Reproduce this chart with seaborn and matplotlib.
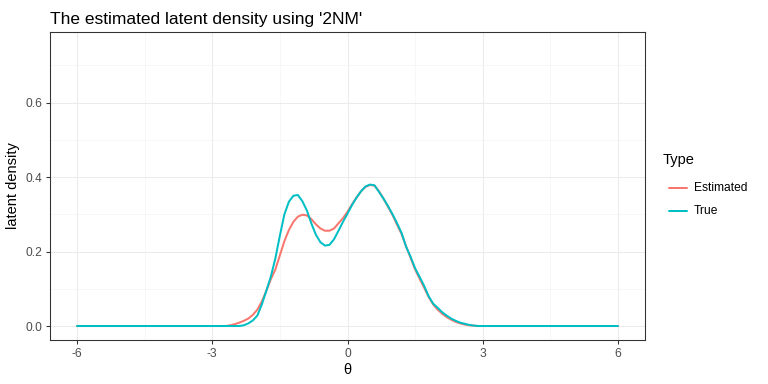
import pandas as pd
import matplotlib
matplotlib.use("Agg")
import matplotlib.pyplot as plt
import seaborn as sns
from matplotlib.ticker import MultipleLocator
from matplotlib.lines import Line2D

# Rejilla de theta
theta = [-6.0, -3.0, -2.9, -2.8, -2.7, -2.6, -2.5, -2.4, -2.3, -2.2, -2.1,
         -2.0, -1.9, -1.8, -1.7, -1.6, -1.5, -1.4, -1.3, -1.2, -1.1,
         -1.0, -0.9, -0.8, -0.7, -0.6, -0.5, -0.4, -0.3, -0.2, -0.1,
         0.0, 0.1, 0.2, 0.3, 0.4, 0.5, 0.6, 0.7, 0.8, 0.9,
         1.0, 1.1, 1.2, 1.3, 1.4, 1.5, 1.6, 1.7, 1.8, 1.9,
         2.0, 2.1, 2.2, 2.3, 2.4, 2.5, 2.6, 2.7, 2.8, 2.9, 3.0, 6.0]

# Densidad estimada
estimated = [0.0, 0.0, 0.0, 0.0, 0.0, 0.002, 0.005, 0.009, 0.014, 0.020, 0.030,
             0.044, 0.066, 0.095, 0.126, 0.152, 0.190, 0.228, 0.258, 0.280, 0.294,
             0.299, 0.297, 0.287, 0.273, 0.262, 0.256, 0.256, 0.262, 0.276, 0.290,
             0.307, 0.327, 0.345, 0.362, 0.374, 0.379, 0.377, 0.362, 0.342, 0.320,
             0.298, 0.272, 0.247, 0.214, 0.183, 0.152, 0.127, 0.103, 0.078, 0.058,
             0.044, 0.033, 0.024, 0.017, 0.011, 0.007, 0.004, 0.002, 0.001, 0.0, 0.0, 0.0]

# Densidad verdadera
true_dens = [0.0, 0.0, 0.0, 0.0, 0.0, 0.0, 0.0, 0.0, 0.002, 0.007, 0.015,
             0.028, 0.058, 0.095, 0.133, 0.182, 0.243, 0.300, 0.334, 0.350, 0.352,
             0.335, 0.310, 0.275, 0.245, 0.225, 0.216, 0.218, 0.233, 0.256, 0.280,
             0.302, 0.325, 0.345, 0.362, 0.375, 0.380, 0.378, 0.360, 0.342, 0.322,
             0.300, 0.276, 0.250, 0.213, 0.186, 0.155, 0.132, 0.108, 0.080, 0.060,
             0.049, 0.037, 0.028, 0.020, 0.014, 0.009, 0.006, 0.003, 0.001, 0.0, 0.0, 0.0]

types = ["Estimated", "True"]
colores = {"Estimated": "#F8766D", "True": "#00BFC4"}

df = pd.concat([
    pd.DataFrame({"theta": theta, "dens": estimated, "Type": "Estimated"}),
    pd.DataFrame({"theta": theta, "dens": true_dens, "Type": "True"}),
])

sns.set_theme(style="white")
plt.rcParams["font.family"] = ["Liberation Sans", "DejaVu Sans"]

fig = plt.figure(figsize=(8, 4), dpi=96)
ax = fig.add_axes([50 / 768, 1 - 340 / 384, 595 / 768, 308 / 384])

sns.lineplot(data=df, x="theta", y="dens", hue="Type", hue_order=types,
             palette=colores, linewidth=1.5, ax=ax, legend=False, sort=True)

ax.set_xlim(-6.6, 6.6)
ax.set_ylim(-0.0376, 0.79)
ax.xaxis.set_minor_locator(MultipleLocator(1.5))
ax.yaxis.set_minor_locator(MultipleLocator(0.1))
ax.set_xticks([-6, -3, 0, 3, 6])
ax.set_xticklabels(["-6", "-3", "0", "3", "6"])
ax.set_yticks([0.0, 0.2, 0.4, 0.6])
ax.set_yticklabels(["0.0", "0.2", "0.4", "0.6"])

ax.grid(True, which="major", color="#EBEBEB", linewidth=0.8)
ax.grid(True, which="minor", color="#F3F3F3", linewidth=0.5)
ax.set_axisbelow(True)
for s in ax.spines.values():
    s.set_color("#333333")
    s.set_linewidth(0.8)

ax.tick_params(axis="both", which="major", length=3, width=0.8, color="#333333",
               labelsize=9, labelcolor="#4D4D4D", pad=3, bottom=True, left=True)
ax.tick_params(axis="both", which="minor", length=0)

ax.set_xlabel("θ", fontsize=11, color="black", labelpad=2)
ax.set_ylabel("latent density", fontsize=11, color="black", labelpad=4)
ax.set_title("The estimated latent density using '2NM'", fontsize=13, color="black",
             loc="left", pad=6)

# Leyenda dibujada a mano para imitar ggplot
fig.text(663 / 768, 1 - 160 / 384, "Type", fontsize=11, color="black",
         ha="left", va="center")
for i, t in enumerate(types):
    y = 1 - (188 + 23 * i) / 384
    fig.add_artist(Line2D([669 / 768, 687 / 768], [y, y], color=colores[t],
                          linewidth=1.5, transform=fig.transFigure))
    fig.text(694 / 768, y, t, fontsize=9, color="black", ha="left", va="center")

fig.savefig("out.png", dpi=96)
